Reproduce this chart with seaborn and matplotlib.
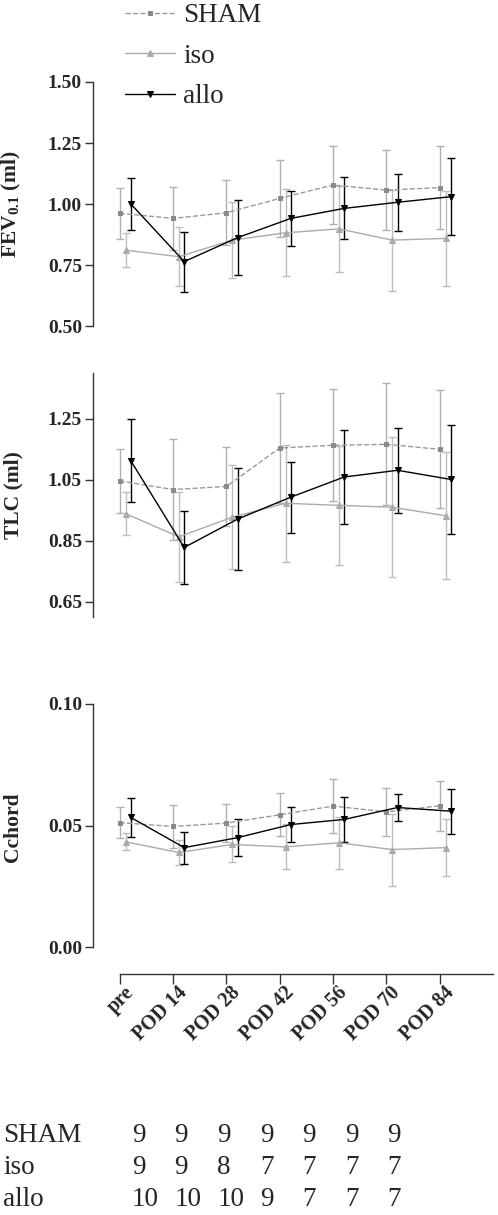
#!/usr/bin/env python3
"""Lung function over time (FEV0.1, TLC, Cchord) for SHAM / iso / allo groups."""

import matplotlib

matplotlib.use("Agg")
import matplotlib.pyplot as plt
import matplotlib.transforms as mtransforms
import numpy as np
import pandas as pd
import seaborn as sns


# ---------------------------------------------------------------------------
# Data (mean +/- SD)
# ---------------------------------------------------------------------------

times = ["pre", "POD 14", "POD 28", "POD 42", "POD 56", "POD 70", "POD 84"]
groups = ["SHAM", "iso", "allo"]

fev_sham = [0.962, 0.941, 0.964, 1.023, 1.078, 1.057, 1.067]
fev_sham_sd = [0.105, 0.130, 0.134, 0.158, 0.158, 0.163, 0.169]
fev_iso = [0.811, 0.784, 0.852, 0.882, 0.898, 0.852, 0.859]
fev_iso_sd = [0.070, 0.120, 0.155, 0.178, 0.175, 0.207, 0.195]
fev_allo = [1.000, 0.764, 0.862, 0.941, 0.982, 1.007, 1.030]
fev_allo_sd = [0.105, 0.123, 0.155, 0.112, 0.127, 0.118, 0.158]

tlc_sham = [1.046, 1.018, 1.028, 1.154, 1.163, 1.166, 1.150]
tlc_sham_sd = [0.104, 0.167, 0.130, 0.180, 0.184, 0.200, 0.194]
tlc_iso = [0.939, 0.863, 0.927, 0.973, 0.966, 0.960, 0.932]
tlc_iso_sd = [0.070, 0.147, 0.170, 0.192, 0.195, 0.230, 0.209]
tlc_allo = [1.112, 0.828, 0.921, 0.993, 1.059, 1.081, 1.051]
tlc_allo_sd = [0.136, 0.120, 0.167, 0.116, 0.154, 0.140, 0.179]

cch_sham = [0.0512, 0.0496, 0.0510, 0.0544, 0.0580, 0.0556, 0.0581]
cch_sham_sd = [0.0064, 0.0090, 0.0077, 0.0088, 0.0110, 0.0100, 0.0104]
cch_iso = [0.0433, 0.0389, 0.0422, 0.0412, 0.0429, 0.0401, 0.0409]
cch_iso_sd = [0.0035, 0.0053, 0.0074, 0.0093, 0.0108, 0.0148, 0.0116]
cch_allo = [0.0533, 0.0409, 0.0450, 0.0504, 0.0525, 0.0574, 0.0559]
cch_allo_sd = [0.0081, 0.0066, 0.0077, 0.0072, 0.0093, 0.0056, 0.0092]

n_sham = [9, 9, 9, 9, 9, 9, 9]
n_iso = [9, 9, 8, 7, 7, 7, 7]
n_allo = [10, 10, 10, 9, 7, 7, 7]


def build_frame():
    series = {
        "fev": [(fev_sham, fev_sham_sd), (fev_iso, fev_iso_sd), (fev_allo, fev_allo_sd)],
        "tlc": [(tlc_sham, tlc_sham_sd), (tlc_iso, tlc_iso_sd), (tlc_allo, tlc_allo_sd)],
        "cchord": [(cch_sham, cch_sham_sd), (cch_iso, cch_iso_sd), (cch_allo, cch_allo_sd)],
    }
    rows = []
    for panel, per_group in series.items():
        for g, (means, sds) in zip(groups, per_group):
            for i, t in enumerate(times):
                rows.append({"panel": panel, "group": g, "t": i, "time": t,
                             "mean": means[i], "sd": sds[i]})
    return pd.DataFrame(rows)


# ---------------------------------------------------------------------------
# Styling
# ---------------------------------------------------------------------------

sns.set_style("ticks")
plt.rcParams["font.family"] = ["Liberation Serif", "DejaVu Serif"]
plt.rcParams["mathtext.fontset"] = "custom"
plt.rcParams["mathtext.rm"] = "Liberation Serif"
plt.rcParams["mathtext.bf"] = "Liberation Serif:bold"

STYLE = {
    "SHAM": dict(color="#9a9a9a", mfc="#8a8a8a", marker="s", ms=3.2, ls="--",
                 ecolor="#b0b0b0", offset=0.0),
    "iso": dict(color="#ababab", mfc="#ababab", marker="^", ms=3.8, ls="-",
                ecolor="#bdbdbd", offset=0.11),
    "allo": dict(color="#000000", mfc="#000000", marker="v", ms=3.8, ls="-",
                 ecolor="#000000", offset=0.21),
}

W, H = 498, 1215
TICK_SIZE = 14
LABEL_SIZE = 15.5


def px_axes(fig, x0, y_top, width, height):
    return fig.add_axes([x0 / W, 1 - (y_top + height) / H, width / W, height / H])


def draw_panel(ax, sub):
    for g in groups:
        st = STYLE[g]
        d = sub[sub["group"] == g].copy()
        d["x"] = d["t"] + st["offset"]
        ax.errorbar(d["x"], d["mean"], yerr=d["sd"], fmt="none",
                    ecolor=st["ecolor"], elinewidth=1.0, capsize=2.6,
                    capthick=1.0, zorder=2)
        sns.lineplot(data=d, x="x", y="mean", ax=ax, color=st["color"],
                     linestyle=st["ls"], linewidth=1.0, marker=st["marker"],
                     markersize=st["ms"], markerfacecolor=st["mfc"],
                     markeredgecolor=st["mfc"], label=g, zorder=3,
                     legend=False)
    ax.set_xlim(-0.5, 7.0)
    ax.set_xlabel("")
    for side in ("top", "right"):
        ax.spines[side].set_visible(False)
    for sp in ax.spines.values():
        sp.set_color("#333333")
        sp.set_linewidth(1.0)
    ax.tick_params(axis="y", length=6, width=1.0, pad=2, color="#333333")


def set_yticks(ax, ticks):
    ax.set_yticks(ticks)
    ax.set_yticklabels([f"{v:.2f}" for v in ticks], fontweight="bold",
                       fontsize=TICK_SIZE)


def main():
    df = build_frame()
    fig = plt.figure(figsize=(W / 100, H / 100), dpi=100)

    # FEV0.1
    ax1 = px_axes(fig, 93, 82, 400, 244)
    draw_panel(ax1, df[df["panel"] == "fev"])
    ax1.set_ylim(0.5, 1.5)
    set_yticks(ax1, [0.50, 0.75, 1.00, 1.25, 1.50])
    ax1.spines["bottom"].set_visible(False)
    ax1.set_xticks([])
    ax1.set_ylabel(r"FEV$_{\mathbf{0.1}}$ (ml)", fontsize=LABEL_SIZE,
                   fontweight="bold")
    ax1.yaxis.set_label_coords(-0.175, 0.5)

    # TLC
    ax2 = px_axes(fig, 93, 373, 400, 244)
    draw_panel(ax2, df[df["panel"] == "tlc"])
    ax2.set_ylim(0.6, 1.4)
    set_yticks(ax2, [0.65, 0.85, 1.05, 1.25])
    ax2.spines["bottom"].set_visible(False)
    ax2.set_xticks([])
    ax2.set_ylabel("TLC (ml)", fontsize=LABEL_SIZE, fontweight="bold")
    ax2.yaxis.set_label_coords(-0.175, 0.5)

    # Cchord (axis extended downward so the x-axis sits below the y-axis end)
    ax3 = px_axes(fig, 93, 704, 400, 270)
    draw_panel(ax3, df[df["panel"] == "cchord"])
    ax3.set_ylim(-0.0111, 0.1)
    set_yticks(ax3, [0.00, 0.05, 0.10])
    ax3.spines["left"].set_bounds(0.0, 0.1)
    ax3.spines["bottom"].set_bounds(0, 7)
    ax3.set_xticks(np.arange(len(times)))
    ax3.set_xticklabels(times, rotation=45, ha="right", va="top",
                        rotation_mode="anchor", fontweight="bold", fontsize=14.5)
    ax3.tick_params(axis="x", length=7, width=1.0, pad=0, color="#333333")
    shift = mtransforms.ScaledTranslation(3 / 72, 1 / 72, fig.dpi_scale_trans)
    for lab in ax3.get_xticklabels():
        lab.set_transform(lab.get_transform() + shift)
    ax3.set_ylabel("Cchord", fontsize=LABEL_SIZE, fontweight="bold")
    ax3.yaxis.set_label_coords(-0.175, 0.545)

    # Legend at the top
    handles, labels = ax1.get_legend_handles_labels()
    fig.legend(handles, labels, loc="upper left",
               bbox_to_anchor=(125 / W, 1 - 3 / H),
               frameon=False, fontsize=19.5, handlelength=1.85,
               handletextpad=0.3, labelspacing=0.58, borderpad=0.0,
               borderaxespad=0.0)

    # n per group table
    table = [("SHAM", n_sham), ("iso", n_iso), ("allo", n_allo)]
    for r, (name, counts) in enumerate(table):
        y = 1 - (1135 + 32.5 * r) / H
        fig.text(3 / W, y, name, fontsize=19.5, va="center", ha="left")
        for j, n in enumerate(counts):
            fig.text((132 + 42.6 * j) / W, y, str(n), fontsize=19.5,
                     va="center", ha="left")

    fig.savefig("out.png", dpi=100)
    plt.close(fig)


if __name__ == "__main__":
    main()
